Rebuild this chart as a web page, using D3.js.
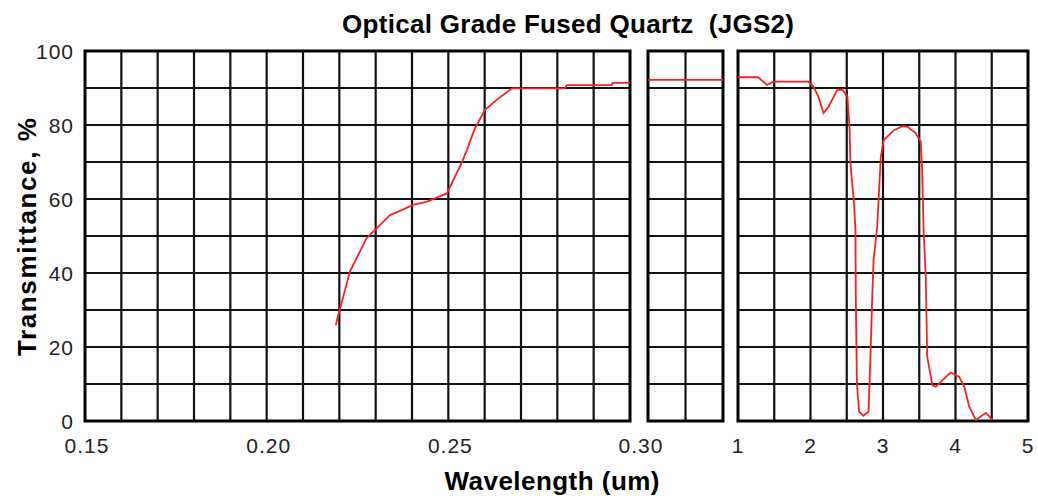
<!DOCTYPE html>
<html>
<head>
<meta charset="utf-8">
<script src="https://cdn.jsdelivr.net/npm/d3@7"></script>
<style>
	body { margin: 0; background: #fff; }
	svg text { font-family: "Liberation Sans", Arial, sans-serif; white-space: pre; }
	.tick-label { font-size: 21px; fill: #222; letter-spacing: 1px; }
	.axis-title { font-size: 26px; font-weight: bold; fill: #000; }
</style>
</head>
<body>
<div id="chart"></div>
<script>

// transmittance curve, split over the three panels of the broken x axis
var uvWavelength = [0.219, 0.2229, 0.2275, 0.2303, 0.2340, 0.2367, 0.2403, 0.2441, 0.2496, 0.2518, 0.2540, 0.2551, 0.2573, 0.2601, 0.2633, 0.2675, 0.2821, 0.2826, 0.2950, 0.2952, 0.300];
var uvTransmit   = [25.9, 40.4, 49.4, 52.1, 55.7, 56.8, 58.4, 59.3, 61.5, 66.0, 70.5, 73.2, 79.1, 84.1, 86.8, 89.9, 89.9, 90.8, 90.8, 91.4, 91.4];

var visWavelength = [0.30, 1.00];
var visTransmit   = [92.2, 92.2];

var irWavelength = [1.00, 1.28, 1.40, 1.49, 1.97, 2.04, 2.11, 2.18, 2.25, 2.37, 2.44, 2.51, 2.54, 2.55, 2.60, 2.62, 2.625, 2.64, 2.67, 2.73, 2.80, 2.83, 2.85, 2.87, 2.92, 2.94, 2.97, 3.01, 3.15, 3.27, 3.34, 3.45, 3.52, 3.54, 3.56, 3.59, 3.61, 3.68, 3.73, 3.93, 4.05, 4.12, 4.19, 4.28, 4.42, 4.51];
var irTransmit   = [92.9, 92.9, 90.8, 91.7, 91.7, 90.4, 87.6, 83.2, 85.0, 89.5, 89.6, 87.6, 78.6, 69.6, 58.8, 51.6, 32.7, 10.2, 2.5, 1.4, 2.5, 19.2, 32.7, 43.5, 52.5, 60.0, 71.4, 75.9, 78.6, 79.7, 79.5, 77.8, 75.5, 67.8, 51.6, 39.0, 17.4, 9.7, 9.3, 13.1, 12.0, 9.3, 3.9, 0.3, 2.2, 0.3];

var yTicks = [0, 20, 40, 60, 80, 100];
var uvTicks = [0.15, 0.20, 0.25];
var irTicks = [1, 2, 3, 4, 5];

var chart = {
	width: 1038,
	height: 502,
	top: 51,
	bottom: 421,
	title: 'Optical Grade Fused Quartz  (JGS2)',
	xTitle: 'Wavelength (um)',
	yTitle: 'Transmittance, %'
};

var panels = [
	{ domain: [0.15, 0.30], range: [85, 630], grid: d3.range(0.15, 0.3001, 0.01), wl: uvWavelength, t: uvTransmit },
	{ domain: [0.30, 1.00], range: [648, 723], grid: [0.30, 0.65, 1.00], wl: visWavelength, t: visTransmit },
	{ domain: [1, 5], range: [738, 1028], grid: d3.range(1, 5.001, 0.5), wl: irWavelength, t: irTransmit }
];

var svg = d3.select('#chart')
	.append('svg')
	.attr('width', chart.width)
	.attr('height', chart.height);

var yScale = d3.scaleLinear()
	.domain([0, 100])
	.range([chart.bottom, chart.top]);

panels.forEach(function (p) {
	p.x = d3.scaleLinear().domain(p.domain).range(p.range);

	var g = svg.append('g');

	// horizontal grid every 10%
	g.selectAll('.hgrid')
		.data(d3.range(10, 100, 10))
		.enter().append('line')
		.attr('x1', p.range[0])
		.attr('x2', p.range[1])
		.attr('y1', function (d) { return yScale(d); })
		.attr('y2', function (d) { return yScale(d); })
		.style('stroke', '#111')
		.style('stroke-width', 2.2);

	g.selectAll('.vgrid')
		.data(p.grid.slice(1, -1))
		.enter().append('line')
		.attr('x1', function (d) { return p.x(d); })
		.attr('x2', function (d) { return p.x(d); })
		.attr('y1', chart.top)
		.attr('y2', chart.bottom)
		.style('stroke', '#111')
		.style('stroke-width', 2.2);

	g.append('rect')
		.attr('x', p.range[0])
		.attr('y', chart.top)
		.attr('width', p.range[1] - p.range[0])
		.attr('height', chart.bottom - chart.top)
		.attr('fill', 'none')
		.style('stroke', '#000')
		.style('stroke-width', 3);

	var line = d3.line()
		.x(function (d) { return p.x(d[0]); })
		.y(function (d) { return yScale(d[1]); });

	g.append('path')
		.datum(d3.zip(p.wl, p.t))
		.attr('d', line)
		.attr('fill', 'none')
		.style('stroke', '#ff1f1f')
		.style('stroke-width', 1.8);
});

// y tick labels
svg.selectAll('.ylab')
	.data(yTicks)
	.enter().append('text')
	.attr('class', 'tick-label')
	.attr('x', 74)
	.attr('y', function (d) { return yScale(d) + 7.5; })
	.attr('text-anchor', 'end')
	.text(function (d) { return d; });

// x tick labels
svg.selectAll('.uvlab')
	.data(uvTicks)
	.enter().append('text')
	.attr('class', 'tick-label')
	.attr('x', function (d) { return panels[0].x(d) + 2; })
	.attr('y', 453)
	.attr('text-anchor', 'middle')
	.text(function (d) { return d3.format('.2f')(d); });

// 0.30 sits in the gap between the first two panels
svg.append('text')
	.attr('class', 'tick-label')
	.attr('x', (panels[0].x(0.30) + panels[1].x(0.30)) / 2 + 2)
	.attr('y', 453)
	.attr('text-anchor', 'middle')
	.text('0.30');

svg.selectAll('.irlab')
	.data(irTicks)
	.enter().append('text')
	.attr('class', 'tick-label')
	.attr('x', function (d) { return panels[2].x(d); })
	.attr('y', 453)
	.attr('text-anchor', 'middle')
	.text(function (d) { return d; });

// titles
svg.append('text')
	.attr('class', 'axis-title')
	.attr('x', 568)
	.attr('y', 33)
	.attr('text-anchor', 'middle')
	.attr('textLength', 452)
	.attr('lengthAdjust', 'spacing')
	.text(chart.title);

svg.append('text')
	.attr('class', 'axis-title')
	.attr('x', 552)
	.attr('y', 490)
	.attr('text-anchor', 'middle')
	.attr('textLength', 215)
	.attr('lengthAdjust', 'spacing')
	.text(chart.xTitle);

svg.append('text')
	.attr('class', 'axis-title')
	.attr('transform', 'translate(36,237) rotate(-90)')
	.attr('text-anchor', 'middle')
	.attr('textLength', 238)
	.attr('lengthAdjust', 'spacing')
	.text(chart.yTitle);

</script>
</body>
</html>
